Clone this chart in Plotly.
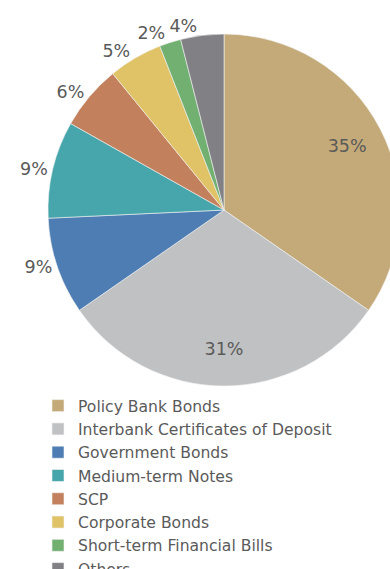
import plotly.graph_objects as go

# Portfolio composition by asset type (percent of holdings)
categories = [
    "Policy Bank Bonds",
    "Interbank Certificates of Deposit",
    "Government Bonds",
    "Medium-term Notes",
    "SCP",
    "Corporate Bonds",
    "Short-term Financial Bills",
    "Others",
]
shares = [35, 31, 9, 9, 6, 5, 2, 4]
slice_colors = [
    "#C4AA78",
    "#C0C1C3",
    "#4D7DB2",
    "#46A6AB",
    "#C2805C",
    "#E0C267",
    "#72B072",
    "#808085",
]

# Percentage labels are split over two layers so neighbouring outside
# labels never get pushed apart (which would add leader lines).
base_label_pos = ["none", "none", "outside", "none", "outside",
                  "none", "outside", "none"]
ring_label_pos = ["inside", "inside", "none", "outside", "none",
                  "outside", "none", "outside"]

FIG_W, FIG_H = 410, 600
PIE_LEFT, PIE_TOP, PIE_D = 48, 34, 352
TEXT_COLOR = "#5a5a5a"
FONT = "DejaVu Sans, Open Sans, sans-serif"
pct_text = [f"{v}%" for v in shares]
pct_font = dict(family=FONT, size=17.5, color=TEXT_COLOR)

common = dict(
    labels=categories,
    values=shares,
    text=pct_text,
    textinfo="text",
    insidetextorientation="horizontal",
    textfont=pct_font,
    sort=False,
    direction="clockwise",
    rotation=0,
    automargin=False,
    hoverinfo="skip",
)

fig = go.Figure()

# solid pie with the legend entries
fig.add_trace(go.Pie(
    **common,
    textposition=base_label_pos,
    marker=dict(colors=slice_colors, line=dict(color="#f4f4f4", width=0.6)),
    showlegend=True,
))

# transparent ring on top that carries the remaining labels
fig.add_trace(go.Pie(
    **common,
    hole=0.58,
    textposition=ring_label_pos,
    marker=dict(colors=["rgba(0,0,0,0)"] * len(shares), line=dict(width=0)),
    showlegend=False,
))

# legend placed in paper coordinates, just below the pie
LEG_LEFT, LEG_TOP = 38, 389
fig.update_layout(
    width=FIG_W,
    height=FIG_H,
    margin=dict(l=PIE_LEFT, r=FIG_W - PIE_LEFT - PIE_D, t=PIE_TOP,
                b=FIG_H - PIE_TOP - PIE_D, pad=0),
    paper_bgcolor="white",
    plot_bgcolor="white",
    font=dict(family=FONT, color=TEXT_COLOR),
    legend=dict(
        x=(LEG_LEFT - PIE_LEFT) / PIE_D,
        y=-(LEG_TOP - PIE_TOP - PIE_D) / PIE_D,
        xanchor="left",
        yanchor="top",
        font=dict(family=FONT, size=15.6, color=TEXT_COLOR),
        bgcolor="rgba(0,0,0,0)",
        borderwidth=0,
        tracegroupgap=0,
    ),
)

fig.write_html("out.html")
